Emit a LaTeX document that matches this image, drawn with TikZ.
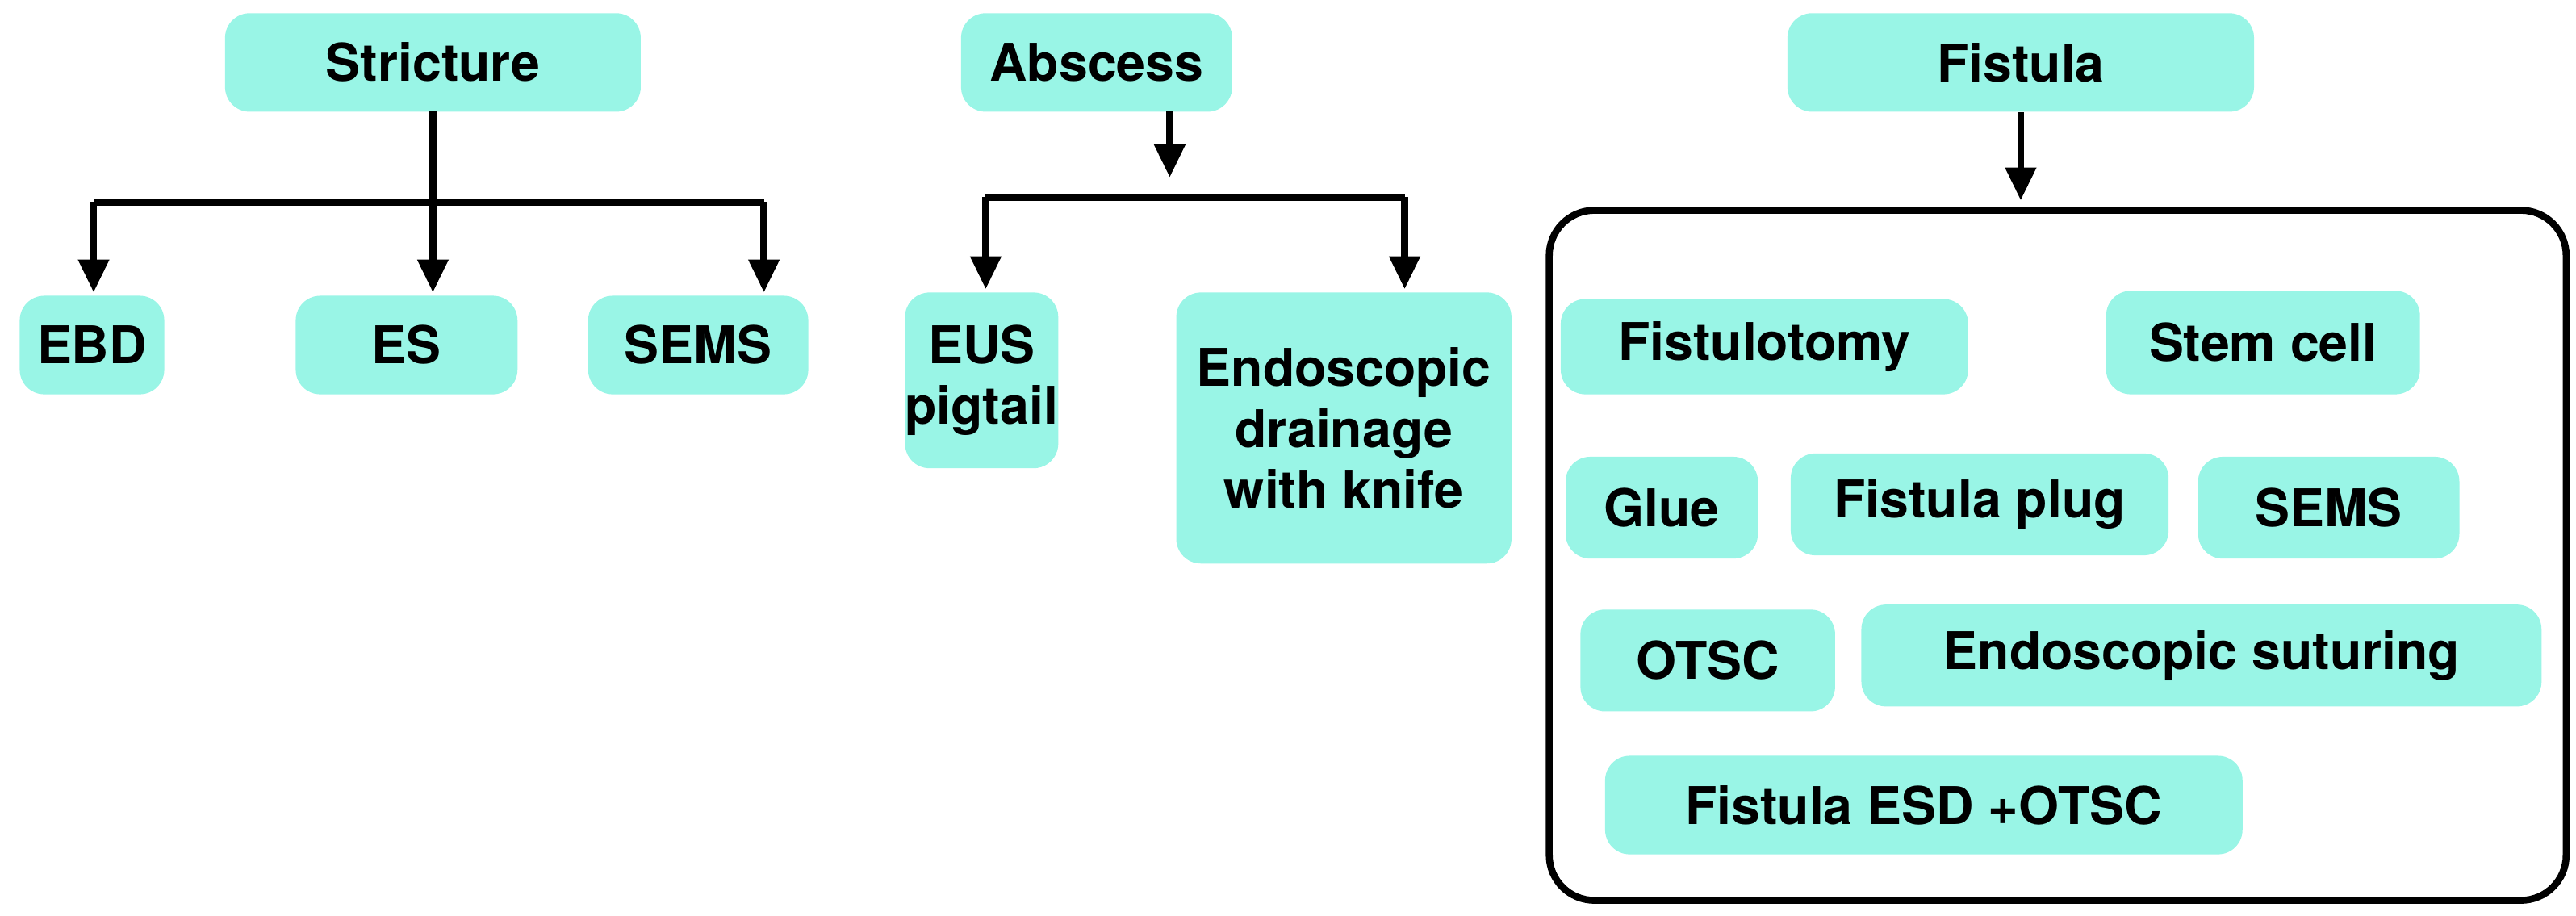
\documentclass[tikz,border=0pt]{standalone}
\usepackage{fontspec}
\setmainfont{TeX Gyre Heros}
\usetikzlibrary{arrows.meta}
\definecolor{aqua}{RGB}{153,245,230}
\tikzset{
  bx/.style={fill=aqua,rounded corners=0.3cm,align=center,font=\fontsize{18}{21}\selectfont\bfseries,inner sep=0pt},
  ar/.style={line width=2.4pt,-{Triangle[width=0.36cm,length=0.4cm]}},
  ln/.style={line width=2.4pt}
}
\newcommand{\mybox}[6]{\node[bx,minimum width={(#4-#2)*0.02cm},minimum height={(#5-#3)*0.02cm}] (#1) at ({(#2+#4)/2},{(#3+#5)/2}) {#6};}
\begin{document}
\begin{tikzpicture}[x=0.02cm,y=-0.02cm]
\useasboundingbox (0,0) rectangle (1568,557.5);
\mybox{str}{137}{8}{390}{68}{Stricture}
\mybox{abs}{585}{8}{750}{68}{Abscess}
\mybox{fis}{1088}{8}{1372}{68}{Fistula}
\mybox{ebd}{12}{180}{100}{240}{EBD}
\mybox{es}{180}{180}{315}{240}{ES}
\mybox{sems}{358}{180}{492}{240}{SEMS}
\mybox{eus}{555}{178}{640}{285}{EUS\\pigtail}
\mybox{edk}{716}{178}{920}{343}{Endoscopic\\drainage\\with knife}
\draw[line width=2.4pt,rounded corners=0.55cm] (943,128) rectangle (1562,548);
\mybox{ftm}{950}{182}{1198}{240}{Fistulotomy}
\mybox{stem}{1282}{177}{1473}{240}{Stem cell}
\mybox{glue}{953}{278}{1070}{340}{Glue}
\mybox{plug}{1090}{276}{1320}{338}{Fistula plug}
\mybox{sems2}{1338}{278}{1497}{340}{SEMS}
\mybox{otsc}{962}{371}{1117}{433}{OTSC}
\mybox{sut}{1133}{368}{1547}{430}{Endoscopic suturing}
\mybox{esd}{977}{460}{1365}{520}{Fistula ESD +OTSC}
% stricture
\coordinate (st) at (263.5,68);
\coordinate (sj) at (263.5,123);
\coordinate (sl) at (57,123);
\coordinate (sr) at (465,123);
\draw[ln] (st) -- (sj);
\draw[ar] (sj) -- (263.5,178);
\draw[ln] (sl) -- (sr);
\draw[ar] (sl) -- (57,178);
\draw[ar] (sr) -- (465,178);
% abscess
\coordinate (at) at (712,68);
\coordinate (aa) at (712,108);
\draw[ar] (at) -- (aa);
\coordinate (al) at (600,120);
\coordinate (arr) at (855,120);
\draw[ln] (al) -- (arr);
\draw[ar] (al) -- (600,176);
\draw[ar] (arr) -- (855,176);
% fistula
\coordinate (fa) at (1230,122);
\draw[ar] (fis.south) -- (fa);
\end{tikzpicture}
\end{document}
